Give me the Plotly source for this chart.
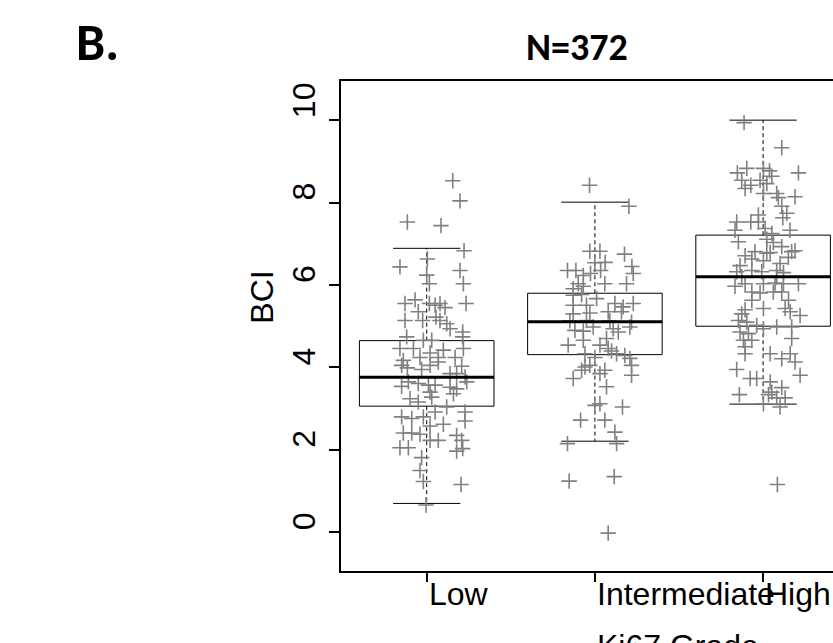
import plotly.graph_objects as go

# ---------------- data ----------------
categories = ["Low", "Intermediate", "High"]
title_text = "N=372"
panel_label = "B."
x_title = "Ki67 Grade"
y_title = "BCI"
y_ticks = [0, 2, 4, 6, 8, 10]

# box statistics: lower whisker, q1, median, q3, upper whisker
whisker_low = [0.70, 2.21, 3.11]
q1 = [3.06, 4.31, 5.00]
median = [3.76, 5.11, 6.20]
q3 = [4.65, 5.80, 7.21]
whisker_high = [6.89, 8.01, 10.00]

# jittered points: (horizontal jitter, BCI value)
low_points = [
    (0.155, 8.53), (0.198, 8.04), (-0.115, 7.53), (0.085, 7.44), (0.222, 6.83), (0.004, 6.63),
    (-0.159, 6.44), (0.198, 6.35), (0.000, 6.24), (0.016, 6.03), (0.218, 6.03), (-0.129, 5.55),
    (-0.069, 5.64), (0.016, 5.55), (0.050, 5.51), (0.079, 5.55), (0.109, 5.45), (0.234, 5.55),
    (-0.050, 5.35), (-0.129, 5.14), (-0.024, 5.14), (0.055, 5.22), (0.079, 5.14), (0.119, 5.06),
    (0.139, 4.94), (0.214, 4.86), (-0.119, 4.74), (0.214, 4.74), (-0.020, 4.66), (0.030, 4.66),
    (-0.159, 4.46), (-0.079, 4.46), (0.218, 4.46), (0.099, 4.42), (-0.040, 4.24), (0.020, 4.35),
    (0.069, 4.24), (0.069, 4.13), (0.169, 4.24), (-0.139, 4.17), (-0.149, 4.05), (-0.115, 3.99),
    (-0.030, 3.95), (0.020, 4.05), (0.208, 4.03), (0.139, 3.85), (0.178, 3.85), (0.228, 3.77),
    (0.238, 3.65), (-0.109, 3.65), (-0.050, 3.61), (0.010, 3.57), (0.050, 3.57), (-0.149, 3.54),
    (0.139, 3.52), (0.178, 3.48), (0.020, 3.40), (0.030, 3.28), (0.159, 3.36), (-0.099, 3.24),
    (-0.050, 3.16), (0.119, 3.04), (0.050, 2.92), (0.228, 2.92), (-0.149, 2.80), (-0.089, 2.76),
    (-0.020, 2.80), (0.228, 2.70), (0.020, 2.58), (0.099, 2.62), (-0.139, 2.41), (-0.089, 2.41),
    (-0.040, 2.38), (0.020, 2.23), (0.069, 2.23), (0.178, 2.35), (0.208, 2.23), (-0.159, 2.05),
    (-0.109, 2.05), (0.178, 1.97), (0.214, 2.03), (-0.030, 1.81), (-0.040, 1.50), (-0.020, 1.23),
    (0.204, 1.16), (-0.004, 0.66),
]
intermediate_points = [
    (-0.032, 8.42), (0.202, 7.91), (-0.030, 6.82), (0.030, 6.82), (0.176, 6.75), (0.000, 6.54),
    (0.061, 6.55), (0.220, 6.45), (-0.163, 6.35), (-0.113, 6.35), (-0.026, 6.28), (0.034, 6.35),
    (0.228, 6.28), (-0.069, 6.23), (-0.099, 6.03), (0.059, 6.03), (0.188, 6.03), (-0.129, 5.91),
    (-0.069, 5.97), (-0.129, 5.75), (-0.079, 5.77), (0.010, 5.67), (-0.129, 5.51), (-0.050, 5.51),
    (0.119, 5.55), (0.168, 5.47), (0.228, 5.55), (-0.129, 5.30), (-0.030, 5.32), (0.079, 5.35),
    (0.158, 5.35), (-0.149, 5.13), (-0.050, 5.14), (0.089, 5.13), (0.218, 5.10), (-0.119, 4.90),
    (-0.069, 4.88), (-0.010, 4.98), (0.109, 4.94), (0.139, 4.86), (0.208, 4.98), (0.069, 4.70),
    (-0.069, 4.66), (-0.159, 4.54), (0.030, 4.54), (0.079, 4.46), (0.099, 4.40), (-0.059, 4.33),
    (0.129, 4.33), (0.178, 4.29), (0.000, 4.24), (0.208, 4.22), (0.218, 4.05), (-0.059, 4.01),
    (-0.030, 4.05), (0.059, 3.93), (-0.079, 3.93), (-0.129, 3.73), (0.030, 3.85), (0.218, 3.81),
    (0.069, 3.53), (0.000, 3.08), (0.030, 3.12), (0.164, 3.04), (-0.085, 2.72), (0.059, 2.72),
    (0.119, 2.43), (-0.163, 2.15), (0.129, 2.15), (-0.153, 1.24), (0.115, 1.35), (0.079, -0.02),
]
high_points = [
    (-0.113, 9.94), (0.111, 9.33), (-0.153, 8.72), (-0.097, 8.83), (0.002, 8.83), (0.038, 8.77),
    (0.052, 8.64), (0.210, 8.72), (-0.127, 8.54), (-0.073, 8.42), (-0.018, 8.54), (0.022, 8.46),
    (-0.107, 8.34), (0.002, 8.22), (0.081, 8.22), (0.190, 8.14), (0.091, 8.12), (0.111, 7.91),
    (-0.028, 7.70), (0.141, 7.74), (0.117, 7.63), (-0.157, 7.53), (-0.073, 7.53), (-0.028, 7.53),
    (-0.167, 7.33), (0.012, 7.37), (0.160, 7.33), (0.052, 7.25), (-0.147, 7.05), (0.022, 7.11),
    (0.061, 7.03), (0.111, 6.93), (-0.048, 6.81), (0.022, 6.77), (0.042, 6.79), (0.170, 6.81),
    (0.190, 6.83), (-0.107, 6.71), (-0.067, 6.63), (0.002, 6.59), (0.150, 6.67), (-0.137, 6.47),
    (0.101, 6.52), (-0.157, 6.32), (-0.067, 6.35), (-0.008, 6.32), (0.081, 6.35), (0.121, 6.30),
    (-0.127, 6.20), (0.081, 6.19), (-0.167, 5.97), (-0.107, 6.03), (0.002, 6.03), (0.071, 6.05),
    (0.121, 6.03), (0.210, 6.03), (-0.067, 5.83), (-0.018, 5.81), (0.061, 5.83), (0.111, 5.83),
    (-0.067, 5.63), (0.151, 5.63), (-0.107, 5.40), (0.002, 5.43), (0.131, 5.43), (-0.127, 5.30),
    (0.161, 5.35), (-0.147, 5.14), (-0.097, 5.10), (0.220, 5.26), (-0.038, 5.02), (0.002, 4.94),
    (0.081, 4.98), (0.170, 4.98), (-0.137, 4.86), (-0.087, 4.82), (0.170, 4.70), (-0.117, 4.66),
    (-0.067, 4.66), (-0.107, 4.50), (-0.107, 4.33), (0.042, 4.33), (0.111, 4.21), (0.161, 4.33),
    (0.190, 4.13), (-0.157, 3.95), (0.220, 3.81), (-0.077, 3.73), (-0.038, 3.73), (0.042, 3.65),
    (0.052, 3.40), (0.111, 3.51), (-0.141, 3.34), (0.032, 3.34), (0.081, 3.26), (0.131, 3.26),
    (0.002, 3.12), (0.101, 3.04), (0.085, 1.16),
]
group_points = [low_points, intermediate_points, high_points]

# ---------------- styling ----------------
AXIS_FONT = dict(family="Liberation Sans, Arial, sans-serif", size=32, color="black")
BOLD_FONT = "Carlito, Lato, sans-serif"
POINT_COLOR = "rgb(128,128,128)"
HALF_BOX = 0.4
HALF_STAPLE = 0.2

fig = go.Figure()

for i, cat in enumerate(categories):
    pos = i + 1
    # box outline
    fig.add_trace(go.Scatter(
        x=[pos - HALF_BOX, pos + HALF_BOX, pos + HALF_BOX, pos - HALF_BOX, pos - HALF_BOX],
        y=[q1[i], q1[i], q3[i], q3[i], q1[i]],
        mode="lines", line=dict(color="black", width=1), hoverinfo="skip"))
    # dashed whiskers
    fig.add_trace(go.Scatter(
        x=[pos, pos, None, pos, pos],
        y=[q3[i], whisker_high[i], None, q1[i], whisker_low[i]],
        mode="lines", line=dict(color="black", width=1, dash="4px,3px"), hoverinfo="skip"))
    # staples
    fig.add_trace(go.Scatter(
        x=[pos - HALF_STAPLE, pos + HALF_STAPLE, None, pos - HALF_STAPLE, pos + HALF_STAPLE],
        y=[whisker_high[i], whisker_high[i], None, whisker_low[i], whisker_low[i]],
        mode="lines", line=dict(color="black", width=1), hoverinfo="skip"))

for i, cat in enumerate(categories):
    pos = i + 1
    pts = group_points[i]
    fig.add_trace(go.Scatter(
        x=[pos + j for j, v in pts], y=[v for j, v in pts],
        mode="markers", name=cat,
        marker=dict(symbol="cross-thin", size=11, line=dict(color=POINT_COLOR, width=1.6))))

for i, cat in enumerate(categories):
    pos = i + 1
    # thick median
    fig.add_trace(go.Scatter(
        x=[pos - HALF_BOX, pos + HALF_BOX], y=[median[i], median[i]],
        mode="lines", line=dict(color="black", width=3), hoverinfo="skip"))

annotations = []
# x tick labels (left aligned at tick, as in the reference)
for i, cat in enumerate(categories):
    annotations.append(dict(x=i + 1, xref="x", y=0, yref="paper", text=cat,
                            xanchor="left", yanchor="top", yshift=-3,
                            showarrow=False, font=AXIS_FONT))
# x axis title (cut by the bottom edge, as in the reference)
annotations.append(dict(x=2, xref="x", y=0, yref="paper", text=x_title,
                        xanchor="left", yanchor="top", yshift=-55,
                        showarrow=False, font=AXIS_FONT))
# y tick labels (rotated, starting at the tick)
for v in y_ticks:
    annotations.append(dict(x=0, xref="paper", y=v, yref="y", text=str(v),
                            textangle=-90, xanchor="right", yanchor="bottom", xshift=-17,
                            showarrow=False, font=AXIS_FONT))
# y axis title
annotations.append(dict(x=0, xref="paper", y=5, yref="y", text=y_title,
                        textangle=-90, xanchor="right", yanchor="bottom", xshift=-59,
                        showarrow=False, font=AXIS_FONT))
# chart title and panel label
annotations.append(dict(x=0.4797, xref="paper", y=1.1194, yref="paper",
                        text="<b>%s</b>" % title_text, xanchor="center", yanchor="top",
                        showarrow=False, font=dict(family=BOLD_FONT, size=38, color="black")))
annotations.append(dict(x=-0.5427, xref="paper", y=1.149, yref="paper",
                        text="<b>%s</b>" % panel_label, xanchor="left", yanchor="top",
                        showarrow=False, font=dict(family=BOLD_FONT, size=52, color="black")))

fig.update_layout(
    width=833, height=643,
    margin=dict(l=341, r=0, t=81, b=72, pad=0),
    paper_bgcolor="white", plot_bgcolor="white",
    showlegend=False,
    annotations=annotations,
    xaxis=dict(range=[0.4905, 3.4156], showgrid=False, zeroline=False,
               showline=True, linecolor="black", linewidth=1.5, mirror=True,
               ticks="outside", ticklen=9, tickwidth=1.5, tickcolor="black",
               tickvals=[1, 2, 3], showticklabels=False),
    yaxis=dict(range=[-0.94, 10.95], showgrid=False, zeroline=False,
               showline=True, linecolor="black", linewidth=1.5, mirror=False,
               ticks="outside", ticklen=10, tickwidth=1.5, tickcolor="black",
               tickvals=y_ticks, showticklabels=False),
)

fig.write_html("out.html", config={"displayModeBar": False},
               post_script="document.body.style.margin='0';document.body.style.overflow='hidden';")
